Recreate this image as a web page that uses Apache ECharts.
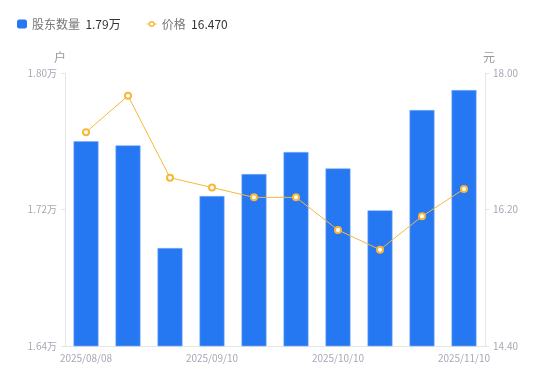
<!DOCTYPE html>
<html>
<head>
<meta charset="utf-8">
<script src="https://cdn.jsdelivr.net/npm/echarts@6/dist/echarts.min.js"></script>
<style>
html,body{margin:0;padding:0;background:#fff;}
#main{width:550px;height:381px;}
</style>
</head>
<body>
<div id="main"></div>
<script>
var categories = ['2025/08/08','2025/08/20','2025/08/29','2025/09/10','2025/09/19','2025/09/30','2025/10/10','2025/10/20','2025/10/31','2025/11/10'];
var holders = [17600, 17576, 16974, 17279, 17408, 17537, 17441, 17195, 17783, 17900];
var prices = [17.22, 17.70, 16.62, 16.49, 16.36, 16.36, 15.93, 15.67, 16.11, 16.47];
var leftTicks = [16400, 17200, 18000];
var rightTicks = [14.40, 16.20, 18.00];
var seriesNames = ['股东数量', '价格'];

var FONT = '"Noto Sans CJK SC", "Noto Sans", sans-serif';
var chart = echarts.init(document.getElementById('main'));
var lastHolder = (holders[holders.length - 1] / 10000).toFixed(2) + '万';
var lastPrice = prices[prices.length - 1].toFixed(3);
var lineIcon = 'path://M0,2.45H2.4V3.55H0Z M7.6,2.45H10V3.55H7.6Z M5,0 A3,3 0 1 1 5,6 A3,3 0 1 1 5,0 Z M5,1.5 A1.5,1.5 0 1 0 5,4.5 A1.5,1.5 0 1 0 5,1.5 Z';

chart.setOption({
  animation: false,
  textStyle: { fontFamily: FONT },
  legend: {
    left: 12,
    top: 13,
    itemGap: 26,
    itemWidth: 10,
    itemHeight: 9,
    data: [
      { name: seriesNames[0], icon: 'roundRect', itemStyle: { borderWidth: 0, color: '#2577f2' } },
      { name: seriesNames[1], icon: lineIcon, itemStyle: { color: '#f8b73a', borderWidth: 0 } }
    ],
    formatter: function (name) {
      var v = name === seriesNames[0] ? lastHolder : lastPrice;
      return '{n|' + name + '}  {v|' + v + '}';
    },
    textStyle: {
      fontFamily: FONT,
      rich: {
        n: { fontSize: 12, color: '#777', fontFamily: FONT },
        v: { fontSize: 12, color: '#333', fontFamily: FONT }
      }
    }
  },
  grid: { left: 65, right: 65, top: 73, bottom: 35 },
  xAxis: {
    type: 'category',
    data: categories,
    axisLine: { lineStyle: { color: '#e6e6e6' } },
    axisTick: { show: false },
    axisLabel: { interval: 2, color: '#a8a8b8', fontSize: 10, fontFamily: FONT, margin: 7 }
  },
  yAxis: [
    {
      type: 'value',
      name: '户',
      nameTextStyle: { color: '#999', fontSize: 12, fontFamily: FONT, padding: [0, 10, 0, 0] },
      nameGap: 10,
      min: 16400,
      max: 18000,
      splitLine: { show: false },
      axisLine: { show: true, lineStyle: { color: '#e6e6e6' } },
      axisTick: { show: true, length: 4, lineStyle: { color: '#e6e6e6' }, customValues: leftTicks },
      axisLabel: {
        customValues: leftTicks,
        color: '#a8a8b8', fontSize: 10, fontFamily: FONT, margin: 8,
        formatter: function (v) { return (v / 10000).toFixed(2) + '万'; }
      }
    },
    {
      type: 'value',
      name: '元',
      nameTextStyle: { color: '#999', fontSize: 12, fontFamily: FONT, padding: [0, 0, 0, 8] },
      nameGap: 10,
      min: 14.4,
      max: 18.0,
      splitLine: { show: false },
      axisLine: { show: true, lineStyle: { color: '#e6e6e6' } },
      axisTick: { show: true, length: 4, lineStyle: { color: '#e6e6e6' }, customValues: rightTicks },
      axisLabel: {
        customValues: rightTicks,
        color: '#a8a8b8', fontSize: 10, fontFamily: FONT, margin: 8,
        formatter: function (v) { return v.toFixed(2); }
      }
    }
  ],
  series: [
    {
      name: seriesNames[0],
      type: 'bar',
      yAxisIndex: 0,
      data: holders,
      barWidth: 25,
      itemStyle: { color: '#2577f2', borderColor: '#7fb0f7', borderWidth: 0.6 }
    },
    {
      name: seriesNames[1],
      type: 'line',
      yAxisIndex: 1,
      data: prices,
      symbol: 'circle',
      symbolSize: 6,
      lineStyle: { color: '#f8b73a', width: 1 },
      itemStyle: { color: '#fff', borderColor: '#f8b73a', borderWidth: 2 }
    }
  ]
});
</script>
</body>
</html>
